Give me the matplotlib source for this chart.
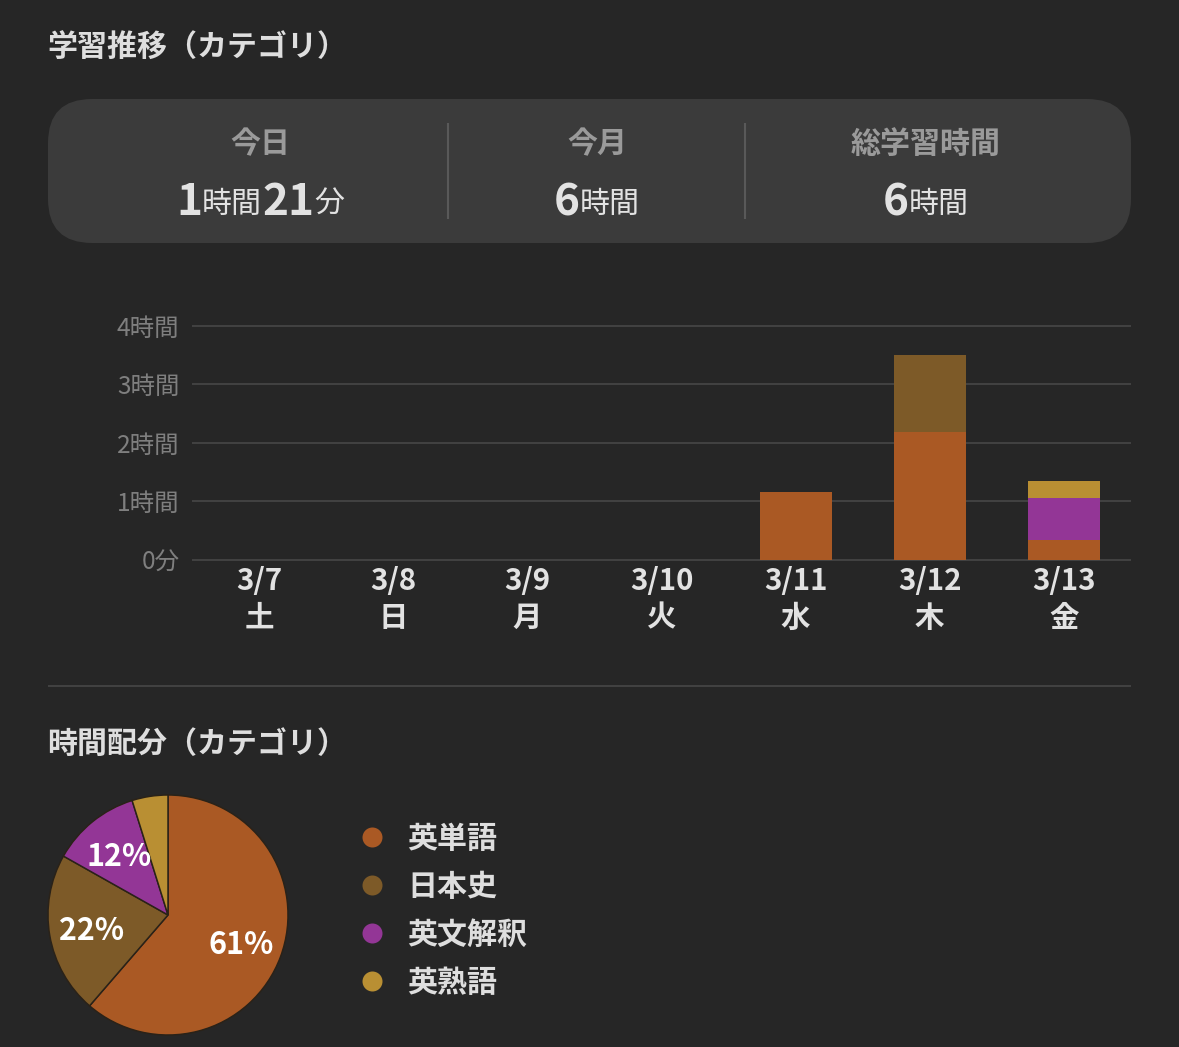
import matplotlib
matplotlib.use("Agg")
import matplotlib.pyplot as plt
from matplotlib.patches import FancyBboxPatch

FONT = ['Noto Sans CJK JP', 'DejaVu Sans']
plt.rcParams['font.family'] = FONT

days = ["3/7\n土", "3/8\n日", "3/9\n月", "3/10\n火", "3/11\n水", "3/12\n木", "3/13\n金"]
categories = ["英単語", "日本史", "英文解釈", "英熟語"]
eitango = [0, 0, 0, 0, 1.16, 2.18, 0.34]
nihonshi = [0, 0, 0, 0, 0, 1.31, 0]
eibun = [0, 0, 0, 0, 0, 0, 0.72]
eijukugo = [0, 0, 0, 0, 0, 0, 0.29]
series = [eitango, nihonshi, eibun, eijukugo]
colors = ["#aa5924", "#7d5a28", "#933696", "#b98f33"]
ytick_vals = [0, 1, 2, 3, 4]
ytick_labels = ["0分", "1時間", "2時間", "3時間", "4時間"]
share_values = [3.68, 1.31, 0.72, 0.29]
stat_titles = ["今日", "今月", "総学習時間"]
stat_values = [[("1", 1), ("時間", 0), ("21", 1), ("分", 0)], [("6", 1), ("時間", 0)], [("6", 1), ("時間", 0)]]
stat_centers = [260, 597, 926]

W, H = 1179, 1047
BG = "#262626"
fig = plt.figure(figsize=(W / 100, H / 100), dpi=100, facecolor=BG)

def rect(l, t, r, b):
    return [l / W, 1 - b / H, (r - l) / W, (b - t) / H]

ov = fig.add_axes([0, 0, 1, 1], zorder=0)
ov.set_xlim(0, W); ov.set_ylim(H, 0); ov.axis("off")
px = 72 / 100

def T(x, y, s, size, color="#e2e2e2", weight="normal", ha="left"):
    return ov.text(x, y, s, fontsize=size * px, color=color, fontweight=weight, ha=ha, va="center", family=FONT)

T(47, 48, "学習推移（カテゴリ）", 30, weight="bold", color="#dedede")
T(47, 744, "時間配分（カテゴリ）", 30, weight="bold", color="#dedede")

ov.add_patch(FancyBboxPatch((48 + 44, 99 + 44), 1083 - 88, 144 - 88,
                            boxstyle="round,pad=44,rounding_size=44", fc="#3b3b3b", ec="none"))
for x in (448, 745):
    ov.plot([x, x], [123, 219], color="#595959", lw=1.5 * px * 1.4, solid_capstyle="butt")
ov.plot([48, 1131], [686, 686], color="#4a4a4a", lw=1.5 * px, solid_capstyle="butt")

for c, t in zip(stat_centers, stat_titles):
    T(c, 144, t, 30, color="#9a9a9a", weight="bold", ha="center")

r = fig.canvas.get_renderer()
for c, parts in zip(stat_centers, stat_values):
    arts = []
    for s, big in parts:
        arts.append(T(0, 202 if big else 204, s, 44 if big else 30, weight="bold" if big else "normal"))
    ws = [a.get_window_extent(r).width for a in arts]
    x = c - sum(ws) / 2
    for a, w in zip(arts, ws):
        a.set_x(x)
        x += w

# bar chart
ax = fig.add_axes(rect(192, 325.5, 1131, 560), zorder=1)
ax.patch.set_alpha(0)
bottom = [0.0] * len(days)
for vals, col in zip(series, colors):
    ax.bar(range(len(days)), vals, 0.537, bottom=bottom, color=col, zorder=3)
    bottom = [b + v for b, v in zip(bottom, vals)]
ax.set_xlim(-0.5, 6.5)
ax.set_ylim(0, 4)
ax.set_yticks(ytick_vals, ytick_labels, fontsize=24.5 * px, color="#7f7f7f")
ax.set_xticks(range(len(days)), days, fontsize=29.5 * px, color="#e2e2e2", fontweight="bold", linespacing=1.27)
ax.tick_params(axis="both", length=0)
ax.tick_params(axis="y", pad=9)
ax.tick_params(axis="x", pad=4.5)
ax.grid(axis="y", color="#4a4a4a", lw=1.5 * px, zorder=0)
ax.set_axisbelow(True)
for s in ax.spines.values():
    s.set_visible(False)
for gl in ax.get_ygridlines():
    gl.set_clip_on(False)
    gl.set_solid_capstyle("butt")

# pie
pa = fig.add_axes(rect(48, 795, 288, 1035), zorder=1)
wedges, _, autos = pa.pie(share_values, colors=colors, startangle=90, counterclock=False, radius=1,
                          autopct=lambda p: f"{p:.0f}%" if p >= 10 else "", pctdistance=0.65,
                          wedgeprops=dict(edgecolor="#2a2218", linewidth=1.5 * px),
                          textprops=dict(color="white", fontsize=30.5 * px, fontweight="bold"))
pa.set_xlim(-1, 1); pa.set_ylim(-1, 1)
for a in autos:
    a.set_y(a.get_position()[1] - 0.02)

# legend
for y, col, name in zip((837, 885, 933, 981), colors, categories):
    ov.plot([372], [y], "o", ms=20 * px, color=col, mec="none")
    T(407, y + 2, name, 30, color="#dedede", weight="bold")

fig.savefig("out.png", dpi=100, facecolor=BG)
